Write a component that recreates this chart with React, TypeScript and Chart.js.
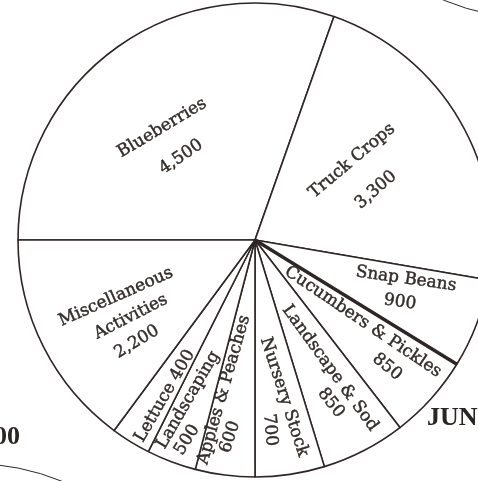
import React, { useEffect, useRef } from "react";
import { Chart, registerables } from "chart.js";

Chart.register(...registerables);

// ---- data ----
const categories = [
  "Blueberries",
  "Truck Crops",
  "Snap Beans",
  "Cucumbers & Pickles",
  "Landscape & Sod",
  "Nursery Stock",
  "Apples & Peaches",
  "Landscaping",
  "Lettuce",
  "Miscellaneous Activities",
];
const values = [4500, 3300, 900, 850, 850, 700, 600, 500, 400, 2200];
const valueLabels = ["4,500", "3,300", "900", "850", "850", "700", "600", "500", "400", "2,200"];

// ---- label layout (angle offset from slice middle in degrees, radius fraction, rotation) ----
type Part = "name" | "value" | "both" | "line0" | "line1";
const labelLayout: { i: number; part: Part; da: number; r: number; rot: number }[] = [
  { i: 0, part: "name", da: -4.4, r: 0.614, rot: -31 },
  { i: 0, part: "value", da: -6.4, r: 0.469, rot: -34 },
  { i: 1, part: "name", da: -8.8, r: 0.528, rot: -40 },
  { i: 1, part: "value", da: 7.9, r: 0.552, rot: -41 },
  { i: 2, part: "name", da: -6.2, r: 0.658, rot: 8 },
  { i: 2, part: "value", da: 2.5, r: 0.665, rot: 8 },
  { i: 3, part: "name", da: -4.8, r: 0.572, rot: 34 },
  { i: 3, part: "value", da: 1.9, r: 0.773, rot: 40 },
  { i: 4, part: "name", da: -3.0, r: 0.626, rot: 54 },
  { i: 4, part: "value", da: 2.4, r: 0.759, rot: 52 },
  { i: 5, part: "name", da: -2.0, r: 0.674, rot: 72 },
  { i: 5, part: "value", da: 4.0, r: 0.804, rot: 85 },
  { i: 6, part: "name", da: 4.4, r: 0.646, rot: -74 },
  { i: 6, part: "value", da: -0.1, r: 0.838, rot: -72 },
  { i: 7, part: "name", da: 2.0, r: 0.732, rot: -60 },
  { i: 7, part: "value", da: -1.9, r: 0.891, rot: -58 },
  { i: 8, part: "both", da: -1.6, r: 0.76, rot: -60 },
  { i: 9, part: "line0", da: 4.5, r: 0.634, rot: -24 },
  { i: 9, part: "line1", da: -5.0, r: 0.616, rot: -27 },
  { i: 9, part: "value", da: -14, r: 0.658, rot: -31 },
];

const INK = "#2e2624";
const TEXT = "#342d2a";

function labelText(i: number, part: Part): string {
  const name = categories[i];
  if (part === "name") return name;
  if (part === "value") return valueLabels[i];
  if (part === "both") return name + " " + valueLabels[i];
  const words = name.split(" ");
  return part === "line0" ? words[0] : words.slice(1).join(" ");
}

const labelsPlugin = {
  id: "sliceLabels",
  afterDatasetsDraw(chart: any) {
    const meta = chart.getDatasetMeta(0);
    const ctx = chart.ctx as CanvasRenderingContext2D;
    // thicker divider after Snap Beans
    const snap: any = meta.data[2];
    if (snap) {
      ctx.save();
      ctx.strokeStyle = INK;
      ctx.lineWidth = 3.4;
      ctx.lineCap = "butt";
      ctx.beginPath();
      ctx.moveTo(snap.x, snap.y);
      ctx.lineTo(
        snap.x + Math.cos(snap.endAngle) * snap.outerRadius,
        snap.y + Math.sin(snap.endAngle) * snap.outerRadius
      );
      ctx.stroke();
      ctx.restore();
    }
    ctx.save();
    ctx.fillStyle = TEXT;
    ctx.strokeStyle = TEXT;
    ctx.lineWidth = 0.45;
    ctx.font = "17px 'DejaVu Serif'";
    ctx.textAlign = "center";
    ctx.textBaseline = "middle";
    for (const l of labelLayout) {
      const arc: any = meta.data[l.i];
      if (!arc) continue;
      const mid = (arc.startAngle + arc.endAngle) / 2 + (l.da * Math.PI) / 180;
      const rr = arc.outerRadius * l.r;
      const x = arc.x + Math.cos(mid) * rr;
      const y = arc.y + Math.sin(mid) * rr;
      ctx.save();
      ctx.translate(x, y);
      ctx.rotate((l.rot * Math.PI) / 180);
      const t = labelText(l.i, l.part);
      ctx.fillText(t, 0, 0);
      ctx.strokeText(t, 0, 0);
      ctx.restore();
    }
    ctx.restore();
  },
};

export default function App() {
  const ref = useRef<HTMLCanvasElement | null>(null);
  useEffect(() => {
    if (!ref.current) return;
    const chart = new Chart(ref.current, {
      type: "pie",
      data: {
        labels: categories,
        datasets: [
          {
            data: values,
            backgroundColor: "#ffffff",
            borderColor: INK,
            borderWidth: 1.6,
            radius: 237,
          } as any,
        ],
      },
      options: {
        responsive: false,
        animation: false,
        devicePixelRatio: 1,
        rotation: 270,
        layout: { padding: 0 },
        plugins: {
          legend: { display: false },
          tooltip: { enabled: false },
          title: { display: false },
        },
      } as any,
      plugins: [labelsPlugin],
    });
    return () => chart.destroy();
  }, []);

  const bold: React.CSSProperties = {
    position: "absolute",
    fontFamily: "'Liberation Serif', serif",
    fontWeight: "bold",
    fontSize: 26,
    lineHeight: "26px",
    color: "#2a2422",
    whiteSpace: "nowrap",
  };
  const ring: React.CSSProperties = {
    position: "absolute",
    width: 474,
    height: 474,
    borderRadius: "50%",
    border: `1.6px solid ${INK}`,
    boxSizing: "border-box",
  };

  return (
    <div
      style={{
        position: "fixed",
        left: 0,
        top: 0,
        width: 478,
        height: 481,
        overflow: "hidden",
        background: "#ffffff",
      }}
    >
      <canvas
        ref={ref}
        width={510}
        height={480}
        style={{ position: "absolute", left: 0, top: 0, width: 510, height: 480 }}
      />
      <div style={{ ...ring, left: 535 - 237, top: -218 - 237 }} />
      <div style={{ ...ring, left: -28 - 237, top: 700 - 237 }} />
      <div style={{ ...bold, left: 427, top: 404 }}>JUNE</div>
      <div style={{ ...bold, left: -6, top: 423 }}>00</div>
    </div>
  );
}
